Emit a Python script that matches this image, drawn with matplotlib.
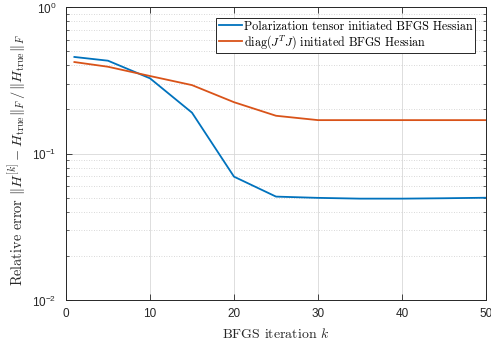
import matplotlib
matplotlib.use("Agg")
import matplotlib.pyplot as plt
from matplotlib.ticker import LogLocator, NullFormatter

# BFGS iterations and relative Hessian errors
iters = [1, 5, 10, 15, 20, 25, 30, 35, 40, 45, 50]
err_polar = [0.456, 0.430, 0.326, 0.190, 0.0695, 0.0508, 0.0498, 0.0492, 0.0492, 0.0495, 0.0499]
err_diag = [0.421, 0.391, 0.338, 0.293, 0.224, 0.181, 0.169, 0.169, 0.169, 0.169, 0.169]

xticks = [0, 10, 20, 30, 40, 50]
yticks = [1e-2, 1e-1, 1e0]
ytick_labels = [r"$10^{-2}$", r"$10^{-1}$", r"$10^{0}$"]

plt.rcParams["font.family"] = "serif"
plt.rcParams["font.serif"] = ["cmr10"]
plt.rcParams["mathtext.fontset"] = "cm"
plt.rcParams["mathtext.rm"] = "Liberation Sans"
plt.rcParams["mathtext.it"] = "Liberation Sans:italic"
plt.rcParams["mathtext.bf"] = "Liberation Sans:bold"
plt.rcParams["axes.unicode_minus"] = False

ink = "#262626"

fig = plt.figure(figsize=(4.91, 3.45), dpi=100)
ax = fig.add_axes([0.1344, 0.1304, 0.8554, 0.8493])

ax.plot(iters, err_polar, color="#0072BD", lw=1.3,
        label="Polarization tensor initiated BFGS Hessian")
ax.plot(iters, err_diag, color="#D95319", lw=1.3,
        label=r"diag$(J^TJ)$ initiated BFGS Hessian")

ax.set_yscale("log")
ax.set_xlim(0, 50)
ax.set_ylim(1e-2, 1e0)

ax.set_xticks(xticks, [str(t) for t in xticks], fontfamily="Liberation Sans", fontsize=8.5)
ax.set_yticks(yticks, ytick_labels, fontsize=8.5, math_fontfamily="custom")
ax.yaxis.set_minor_locator(LogLocator(base=10, subs=range(2, 10)))
ax.yaxis.set_minor_formatter(NullFormatter())

ax.tick_params(which="both", direction="in", top=True, right=True, colors=ink)
ax.tick_params(which="major", length=4, width=0.6)
ax.tick_params(which="minor", length=2, width=0.5)
ax.tick_params(axis="x", which="major", pad=6)
ax.tick_params(axis="y", which="major", pad=7)
for s in ax.spines.values():
    s.set_color(ink)
    s.set_linewidth(0.7)

ax.grid(True, which="major", color="#d8d8d8", lw=0.6)
ax.grid(True, which="minor", axis="y", color="#cccccc", lw=0.6, ls=(0, (1, 2)))
ax.set_axisbelow(True)

ax.set_xlabel(r"BFGS iteration $k$", fontsize=10, color=ink, labelpad=5)
ax.set_ylabel(r"Relative error $\|H^{[k]}-H_{\rm true}\|_F\,/\,\|H_{\rm true}\|_F$",
              fontsize=10.3, color=ink, labelpad=3)
ax.yaxis.set_label_coords(-0.09, 0.478)

leg = ax.legend(loc="upper right", bbox_to_anchor=(0.974, 0.962), borderaxespad=0,
                fontsize=8.7, handlelength=1.9, handletextpad=0.2, borderpad=0.2,
                labelspacing=0.05, fancybox=False, framealpha=1, edgecolor=ink)
leg.get_frame().set_linewidth(0.7)

fig.savefig("out.png", dpi=100)
